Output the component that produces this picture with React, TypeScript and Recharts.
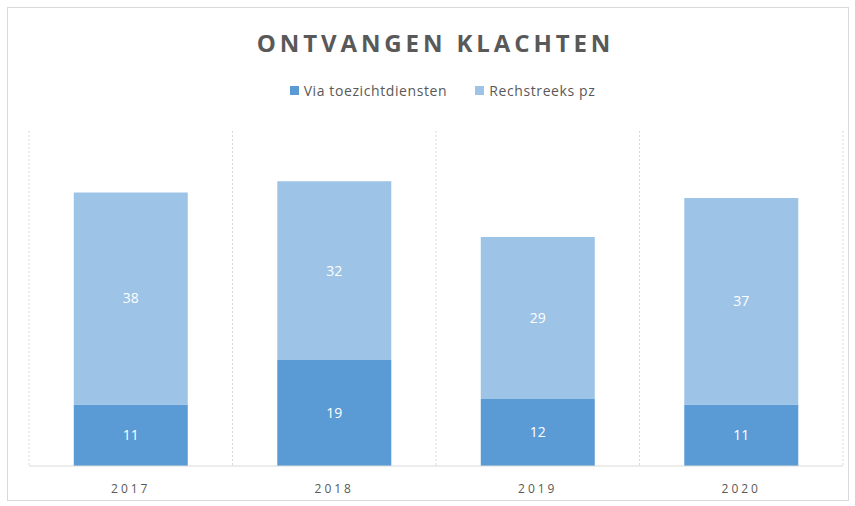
import { BarChart, Bar, XAxis, YAxis, CartesianGrid, LabelList } from 'recharts';

const years = ['2017', '2018', '2019', '2020'];
const viaToezicht = [11, 19, 12, 11];
const rechtstreeks = [38, 32, 29, 37];

const data = years.map((year, i) => ({
    year,
    via: viaToezicht[i],
    direct: rechtstreeks[i],
}));

const series = [
    { key: 'via', name: 'Via toezichtdiensten', color: '#5b9bd5' },
    { key: 'direct', name: 'Rechstreeks pz', color: '#9dc3e6' },
];

const FONT = '"Open Sans", "DejaVu Sans", sans-serif';

export default function App() {
    return (
        <div style={{ position: 'absolute', left: 0, top: 0, width: 855, height: 506, background: '#fff', fontFamily: FONT }}>
            <div style={{ position: 'absolute', left: 7, top: 7, width: 840, height: 492, border: '1px solid #d9d9d9' }} />
            <div
                style={{
                    position: 'absolute',
                    top: 26,
                    left: 8,
                    width: 855,
                    textAlign: 'center',
                    fontSize: 24,
                    fontWeight: 700,
                    letterSpacing: 3.9,
                    color: '#595959',
                }}
            >
                ONTVANGEN KLACHTEN
            </div>
            <div
                style={{
                    position: 'absolute',
                    top: 81,
                    left: 15,
                    width: 855,
                    display: 'flex',
                    justifyContent: 'center',
                    gap: 28,
                    fontSize: 14,
                    letterSpacing: 0.6,
                    color: '#595959',
                }}
            >
                {series.map((s) => (
                    <div key={s.key} style={{ display: 'flex', alignItems: 'center' }}>
                        <span style={{ width: 9, height: 9, background: s.color, display: 'inline-block', marginRight: 5 }} />
                        <span>{s.name}</span>
                    </div>
                ))}
            </div>
            <div style={{ position: 'absolute', left: 0, top: 0 }}>
                <BarChart
                    width={855}
                    height={506}
                    data={data}
                    margin={{ top: 131, right: 12, bottom: 10, left: 29 }}
                    barCategoryGap="22%"
                >
                    <CartesianGrid
                        horizontal={false}
                        stroke="#d9d9d9"
                        strokeDasharray="2 2"
                        verticalCoordinatesGenerator={({ offset }: any) =>
                            Array.from({ length: years.length + 1 }, (_, i) => offset.left + (i * offset.width) / years.length)
                        }
                    />
                    <XAxis
                        dataKey="year"
                        height={30}
                        axisLine={{ stroke: '#d9d9d9' }}
                        tickLine={false}
                        tick={{ fill: '#595959', fontSize: 12, letterSpacing: 3, fontFamily: FONT }}
                        dy={10}
                    />
                    <YAxis hide domain={[0, 60]} />
                    {series.map((s) => (
                        <Bar key={s.key} dataKey={s.key} name={s.name} stackId="a" fill={s.color} isAnimationActive={false}>
                            <LabelList dataKey={s.key} position="center" fill="#ffffff" fontSize={14} fontFamily={FONT} />
                        </Bar>
                    ))}
                </BarChart>
            </div>
        </div>
    );
}
